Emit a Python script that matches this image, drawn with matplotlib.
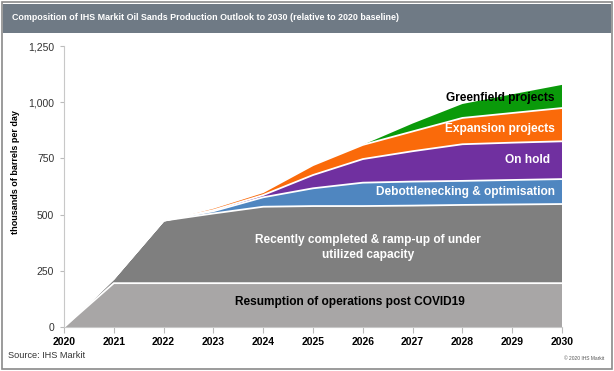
"""
Composition of IHS Markit oil sands production outlook to 2030,
stacked relative to the 2020 baseline.
"""

import matplotlib
import matplotlib.pyplot as plt
import numpy as np
from matplotlib.patches import Rectangle
from matplotlib.ticker import FuncFormatter

matplotlib.rcParams.update({"font.family": ["Liberation Sans", "DejaVu Sans"]})

# thousands of barrels per day, layer thickness per year
years = [2020, 2021, 2022, 2023, 2024, 2025, 2026, 2027, 2028, 2029, 2030]
resumption = [0, 195, 195, 195, 195, 195, 195, 195, 195, 195, 195]
recently = [0, 20, 278, 310, 340, 343, 343, 345, 348, 350, 352]
debottleneck = [0, 0, 0, 10, 42, 79, 104, 107, 107, 109, 111]
on_hold = [0, 0, 0, 5, 10, 59, 105, 135, 163, 166, 168]
expansion = [0, 0, 0, 10, 13, 44, 63, 88, 117, 132, 148]
greenfield = [0, 0, 0, 0, 0, 0, 0, 35, 62, 83, 103]

LAYERS = [
    ("Resumption of operations post COVID19", resumption, "#a8a6a6"),
    ("Recently completed & ramp-up of under\nutilized capacity", recently, "#7f7f7f"),
    ("Debottlenecking & optimisation", debottleneck, "#4f86c0"),
    ("On hold", on_hold, "#7030a0"),
    ("Expansion projects", expansion, "#fa6a0a"),
    ("Greenfield projects", greenfield, "#0a9a0a"),
]

W, H = 614, 371
fig = plt.figure(figsize=(W / 100, H / 100), dpi=100)

# frame and title bar
fig.patches.append(Rectangle((2 / W, 2 / H), 1 - 4 / W, 1 - 4 / H, transform=fig.transFigure,
                             fill=False, edgecolor="#8a8a8a", linewidth=1.2))
fig.patches.append(Rectangle((3 / W, 1 - 33 / H), 1 - 6 / W, 29 / H, transform=fig.transFigure,
                             facecolor="#6f7a85", edgecolor="none"))
fig.text(12 / W, 1 - 18 / H,
         "Composition of IHS Markit Oil Sands Production Outlook to 2030 (relative to 2020 baseline)",
         color="white", fontsize=6.4, fontweight="bold", va="center", ha="left")

ax = fig.add_axes([64 / W, 1 - 327 / H, (562 - 64) / W, (327 - 46) / H])

values = np.array([l[1] for l in LAYERS], dtype=float)
ax.stackplot(years, values, colors=[l[2] for l in LAYERS], linewidth=0)

# white separators between layers
tops = np.cumsum(values, axis=0)
for top in tops[:-1]:
    ax.plot(years, top, color="white", linewidth=1.3)

ax.set_xlim(2020, 2030)
ax.set_ylim(0, 1250)
ax.set_xticks(years)
ax.set_xticklabels([str(y) for y in years], fontweight="bold", fontsize=7.5)
ax.set_yticks(range(0, 1251, 250))
ax.yaxis.set_major_formatter(FuncFormatter(lambda v, p: f"{int(v):,}"))
ax.tick_params(axis="y", labelsize=7.5, colors="#bbbbbb", labelcolor="#333333", length=3, pad=4)
ax.tick_params(axis="x", colors="#bbbbbb", labelcolor="black", length=4, pad=3)
for side in ("top", "right"):
    ax.spines[side].set_visible(False)
for side in ("left", "bottom"):
    ax.spines[side].set_color("#c8c8c8")
    ax.spines[side].set_linewidth(0.8)
ax.set_ylabel("thousands of barrels per day", fontsize=6.5, fontweight="bold")
ax.yaxis.set_label_coords(-0.088, 0.55)

# in-area labels
label_kw = dict(fontsize=8.6, fontweight="bold", va="center")
ax.text(2029.85, 1018, "Greenfield projects", color="black", ha="right", **label_kw)
ax.text(2029.85, 880, "Expansion projects", color="white", ha="right", **label_kw)
ax.text(2029.75, 745, "On hold", color="white", ha="right", **label_kw)
ax.text(2029.85, 600, "Debottlenecking & optimisation", color="white", ha="right", **label_kw)
ax.text(2026.1, 355, LAYERS[1][0], color="white", ha="center", linespacing=1.3, **label_kw)
ax.text(2025.75, 110, LAYERS[0][0], color="black", ha="center", **label_kw)

fig.text(8 / W, 1 - 355 / H, "Source: IHS Markit", fontsize=6.6, color="#333333", va="center")
fig.text(604 / W, 1 - 358 / H, "\u00a9 2020 IHS Markit", fontsize=3.5, color="#555555",
         va="center", ha="right")

plt.savefig("out.png", dpi=100)
plt.close()
